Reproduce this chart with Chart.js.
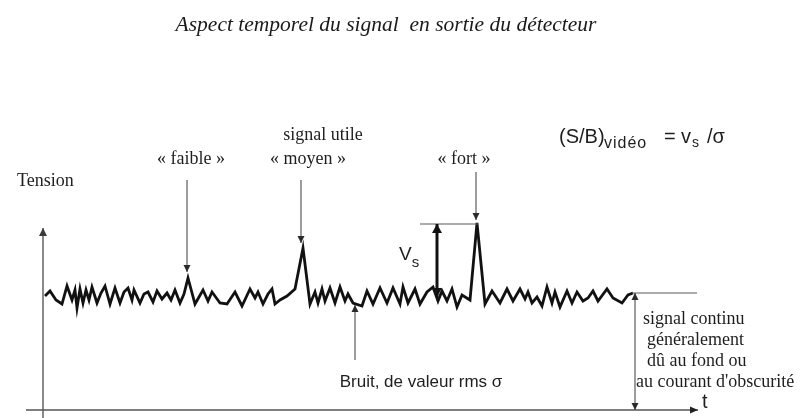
<!DOCTYPE html>
<html>
<head>
<meta charset="utf-8">
<script src="https://cdn.jsdelivr.net/npm/chart.js@4/dist/chart.umd.min.js"></script>
<style>
  html, body { margin: 0; padding: 0; background: #fff; }
  canvas { display: block; }
</style>
</head>
<body>
<canvas id="signal" width="809" height="418"></canvas>
<script>
// temps (unites arbitraires) et tension lue en sortie du detecteur
var temps = [2, 7, 13, 19, 24, 29, 32, 34, 37, 40, 43, 46, 49, 54, 58, 62, 67, 72, 77, 81,
  85, 89, 91, 97, 101, 105, 110, 114, 119, 124, 128, 132, 137, 141, 145, 152, 160, 165, 169,
  177, 184, 192, 199, 207, 212, 215, 220, 225, 229, 232, 237, 244, 252, 260, 267, 272, 275,
  279, 282, 287, 292, 297, 302, 305, 310, 319, 324, 330, 337, 344, 350, 357, 360, 365, 372,
  377, 384, 390, 395, 399, 404, 409, 414, 419, 427, 434, 442, 449, 457, 464, 470, 477, 482,
  485, 489, 494, 499, 504, 509, 512, 517, 524, 529, 534, 540, 545, 550, 555, 564, 570, 579,
  585, 590];
var tension = [114, 119, 110, 106, 124, 110, 120, 102, 121, 107, 120, 110, 123, 107, 117, 124,
  106, 122, 107, 118, 122, 110, 120, 107, 116, 118, 108, 119, 111, 117, 110, 120, 107, 116,
  132, 106, 120, 109, 118, 107, 106, 118, 104, 121, 112, 118, 106, 116, 121, 106, 110, 114,
  121, 162, 106, 118, 107, 121, 109, 122, 107, 123, 109, 116, 107, 104, 119, 106, 122, 107,
  122, 106, 123, 107, 121, 106, 118, 123, 109, 119, 109, 121, 103, 115, 110, 187, 106, 119,
  107, 121, 109, 121, 111, 118, 107, 113, 104, 123, 107, 118, 103, 119, 107, 118, 109, 112,
  119, 109, 121, 112, 107, 115, 117];

// niveau continu (fond / courant d'obscurite) et amplitude du pic fort
var niveauContinu = 117;
var picFort = 186;

// libelles
var titre = "Aspect temporel du signal  en sortie du détecteur";
var labelPics = ["« faible »", "« moyen »", "« fort »"];
var labelContinu = ["signal continu", "généralement", "dû au fond ou", "au courant d'obscurité"];

var points = [];
for (var i = 0; i < temps.length; i++) {
  points.push({ x: temps[i], y: tension[i] });
}

function fleche(ctx, x1, y1, x2, y2, taille, larg) {
  ctx.beginPath();
  ctx.moveTo(x1, y1);
  ctx.lineTo(x2, y2);
  ctx.stroke();
  var a = Math.atan2(y2 - y1, x2 - x1);
  ctx.beginPath();
  ctx.moveTo(x2, y2);
  ctx.lineTo(x2 - taille * Math.cos(a) + larg * Math.sin(a), y2 - taille * Math.sin(a) - larg * Math.cos(a));
  ctx.lineTo(x2 - taille * Math.cos(a) - larg * Math.sin(a), y2 - taille * Math.sin(a) + larg * Math.cos(a));
  ctx.closePath();
  ctx.fill();
}

function texte(ctx, s, x, y, font, align, color) {
  ctx.font = font;
  ctx.textAlign = align || "left";
  ctx.textBaseline = "middle";
  ctx.fillStyle = color || "#1e1e1e";
  ctx.fillText(s, x, y);
}

var axes = {
  id: "axes",
  beforeDatasetsDraw: function(chart) {
    var ctx = chart.ctx;
    var X = function(t) { return chart.scales.x.getPixelForValue(t); };
    var Y = function(v) { return chart.scales.y.getPixelForValue(v); };
    ctx.save();
    // axe des tensions
    ctx.strokeStyle = "#8a8a8a";
    ctx.fillStyle = "#3a3a3a";
    ctx.lineWidth = 2;
    fleche(ctx, X(0), Y(-10), X(0), Y(182), 8, 4);
    // axe du temps
    ctx.strokeStyle = "#555";
    ctx.fillStyle = "#222";
    ctx.lineWidth = 1.5;
    fleche(ctx, X(-17), Y(0), X(655), Y(0), 8, 3.5);
    ctx.restore();
  }
};

var annotations = {
  id: "annotations",
  afterDatasetsDraw: function(chart) {
    var ctx = chart.ctx;
    var X = function(t) { return chart.scales.x.getPixelForValue(t); };
    var Y = function(v) { return chart.scales.y.getPixelForValue(v); };
    ctx.save();

    // fleches fines vers les pics et vers le bruit
    ctx.strokeStyle = "#5a5a5a";
    ctx.fillStyle = "#2a2a2a";
    ctx.lineWidth = 1.2;
    fleche(ctx, X(144), Y(230), X(144), Y(138), 7, 3.5);
    fleche(ctx, X(258), Y(230), X(258), Y(167), 7, 3.5);
    fleche(ctx, X(433), Y(238), X(433), Y(190), 7, 3.5);
    fleche(ctx, X(312), Y(50), X(312), Y(105), 7, 3.5);

    // niveau continu
    ctx.beginPath();
    ctx.moveTo(X(589), Y(niveauContinu));
    ctx.lineTo(X(654), Y(niveauContinu));
    ctx.stroke();
    fleche(ctx, X(592), Y(60), X(592), Y(niveauContinu), 7, 3.5);
    fleche(ctx, X(592), Y(60), X(592), Y(0), 7, 3.5);

    // amplitude vs
    ctx.beginPath();
    ctx.moveTo(X(377), Y(picFort));
    ctx.lineTo(X(435), Y(picFort));
    ctx.stroke();
    ctx.strokeStyle = "#111";
    ctx.fillStyle = "#111";
    ctx.lineWidth = 3;
    fleche(ctx, X(394), Y(150), X(394), Y(picFort), 9, 5);
    fleche(ctx, X(394), Y(150), X(394), Y(113), 9, 5);

    // textes
    var serif = "18px 'Liberation Serif'";
    texte(ctx, titre, X(343), Y(385), "italic 21.5px 'Liberation Serif'", "center", "#1a1a1a");
    texte(ctx, "Tension", X(-26), Y(229), serif);
    texte(ctx, labelPics[0], X(148), Y(251), serif, "center");
    texte(ctx, "signal utile", X(280), Y(275), serif, "center");
    texte(ctx, labelPics[1], X(265), Y(251), serif, "center");
    texte(ctx, labelPics[2], X(421), Y(251), serif, "center");
    for (var k = 0; k < labelContinu.length; k++) {
      var dx = [600, 604, 604, 593][k];
      texte(ctx, labelContinu[k], X(dx), Y(91 - 21 * k), serif);
    }
    texte(ctx, "Bruit, de valeur rms σ", X(378), Y(28), "17px 'Liberation Sans'", "center");

    // V_s
    var x0 = X(356), y0 = Y(155);
    texte(ctx, "V", x0, y0, "19px 'Liberation Sans'");
    texte(ctx, "s", x0 + ctx.measureText("V").width, y0 + 8, "15px 'Liberation Sans'");

    // (S/B)video = vs / sigma
    var xs = X(516), ys = Y(273);
    texte(ctx, "(S/B)", xs, ys, "20px 'Liberation Sans'");
    ctx.letterSpacing = "1px";
    texte(ctx, "vidéo", xs + 45, ys + 7, "16px 'Liberation Sans'");
    ctx.letterSpacing = "0px";
    texte(ctx, "=", xs + 105, ys, "20px 'Liberation Sans'");
    texte(ctx, "v", xs + 122, ys, "20px 'Liberation Sans'");
    texte(ctx, "s", xs + 133, ys + 6, "14px 'Liberation Sans'");
    texte(ctx, "/σ", xs + 148, ys, "20px 'Liberation Sans'");

    texte(ctx, "t", X(659), Y(8), "20px 'Liberation Sans'");
    ctx.restore();
  }
};

new Chart(document.getElementById("signal"), {
  type: "line",
  data: {
    datasets: [{
      data: points,
      borderColor: "#111",
      borderWidth: 2.8,
      pointRadius: 0,
      tension: 0,
      fill: false
    }]
  },
  options: {
    responsive: false,
    animation: false,
    devicePixelRatio: 1,
    layout: { padding: 0 },
    plugins: { legend: { display: false }, tooltip: { enabled: false } },
    scales: {
      x: { type: "linear", min: -43, max: 766, display: false },
      y: { min: -8, max: 410, display: false }
    }
  },
  plugins: [axes, annotations]
});
</script>
</body>
</html>
